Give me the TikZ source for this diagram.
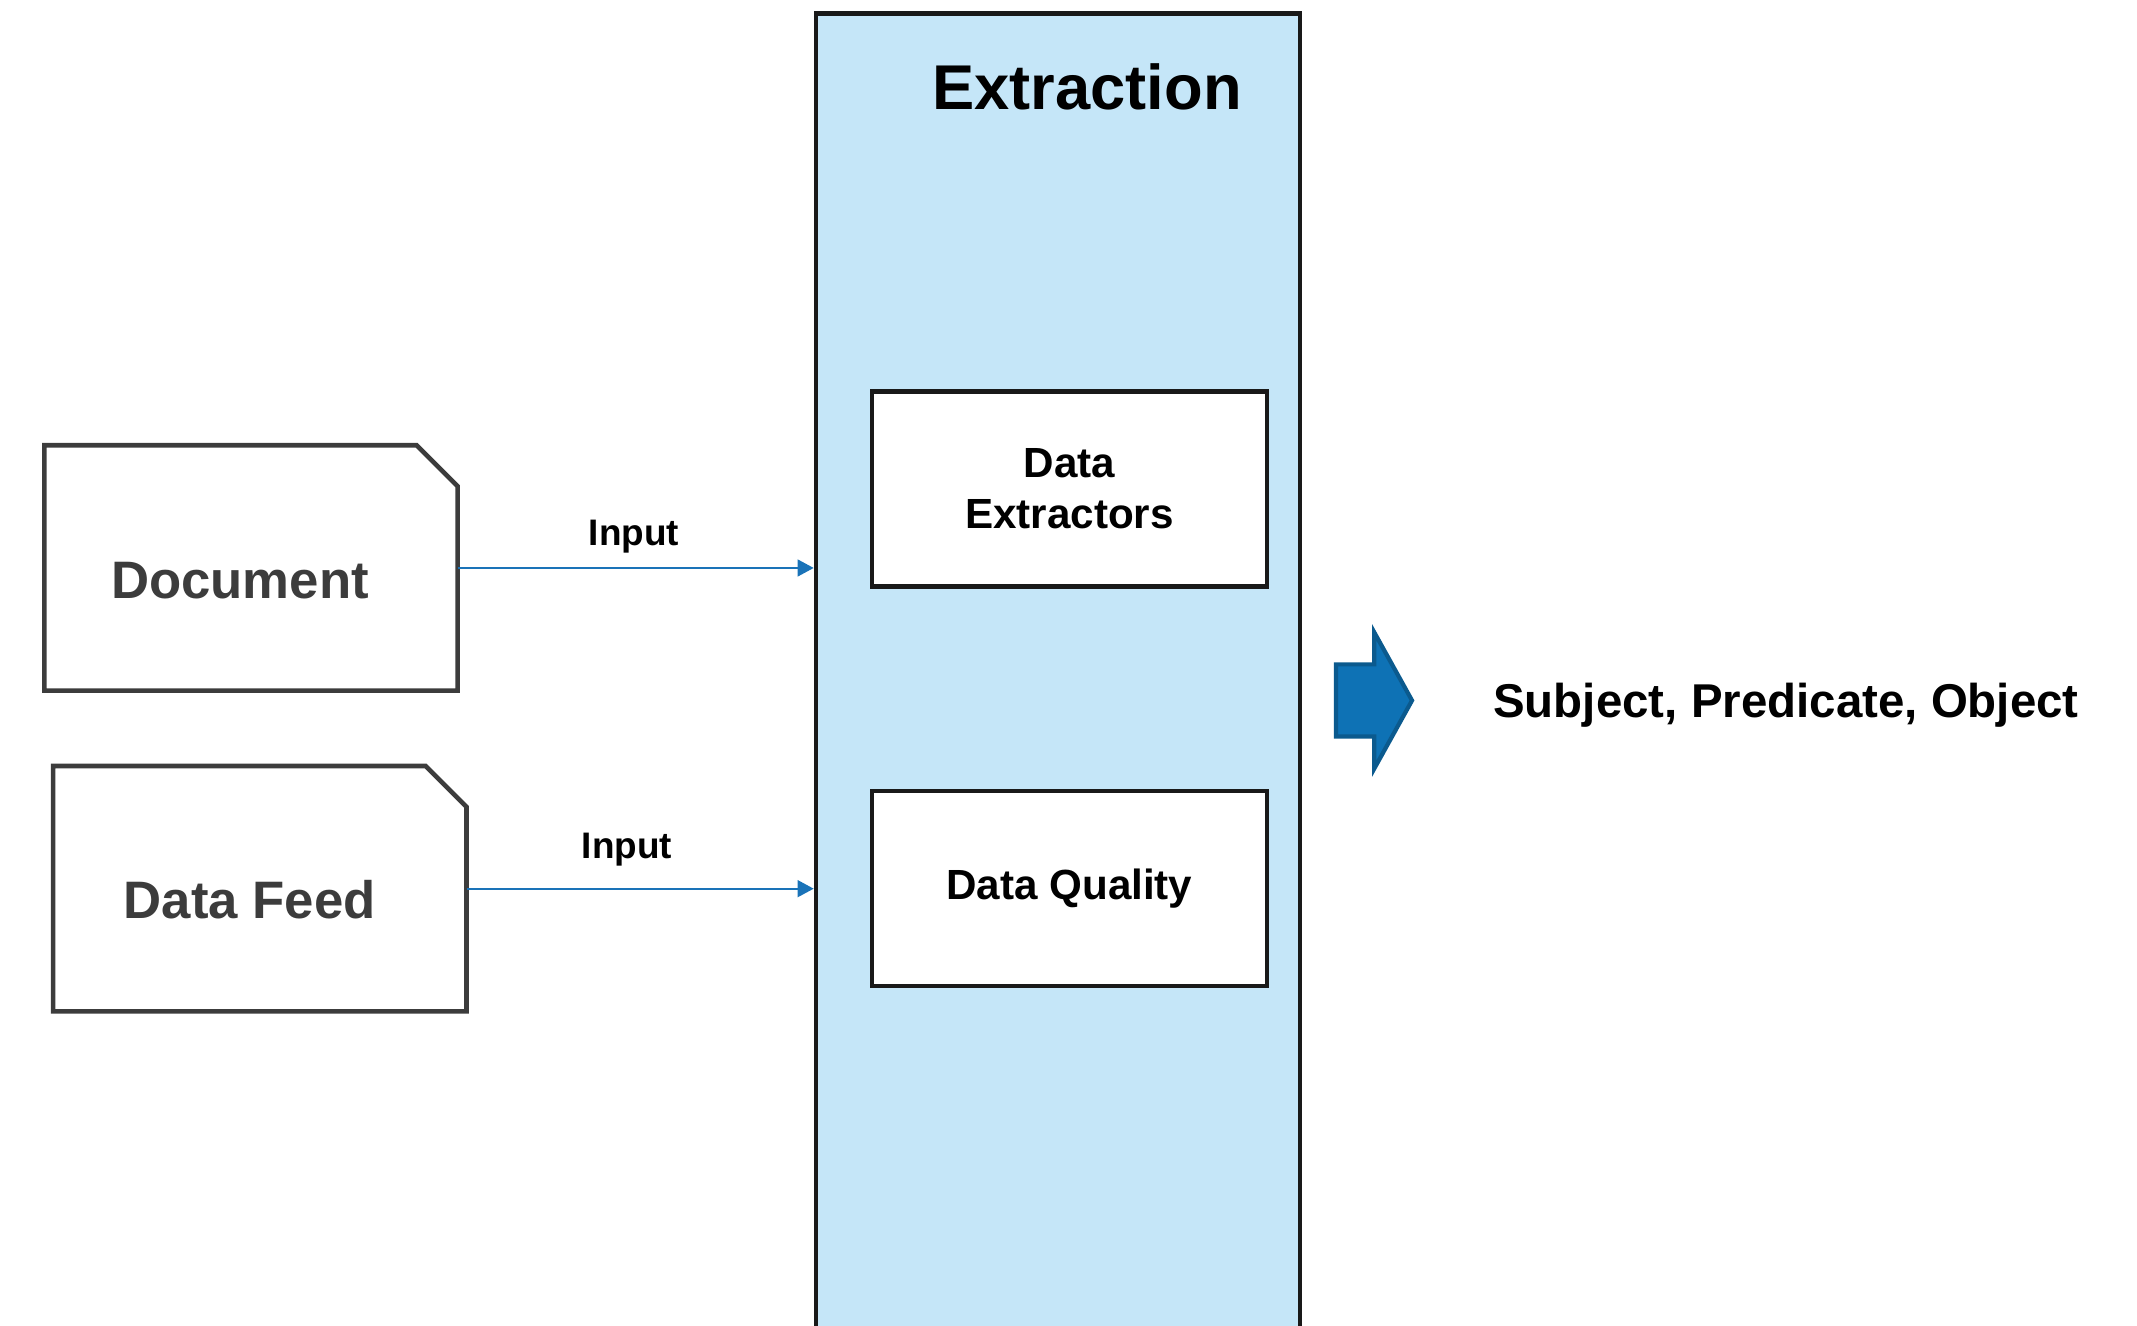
\documentclass[tikz,border=0pt]{standalone}
\usepackage{fontspec}
\setmainfont{Liberation Sans}
\usetikzlibrary{positioning,arrows.meta,shapes.arrows}
\definecolor{panelblue}{HTML}{C5E6F8}
\definecolor{flowblue}{HTML}{0E72B5}
\definecolor{flowedge}{HTML}{0B5A8E}
\definecolor{docgray}{HTML}{3C3C3C}
\definecolor{linkblue}{HTML}{1A73B8}

\begin{document}
\begin{tikzpicture}[
  source/.style={rectangle, minimum width=4.12cm, minimum height=2.44cm, inner sep=0pt},
  outline/.style={draw=docgray, line width=1.3pt},
  srctext/.style={text=docgray, font=\fontsize{15}{18}\selectfont\bfseries},
  stage/.style={rectangle, draw=black!90, line width=1.2pt, fill=white,
    minimum width=3.95cm, minimum height=1.95cm, align=center,
    font=\fontsize{12}{14.5}\selectfont\bfseries},
  feed/.style={draw=linkblue, line width=0.6pt, -{Triangle[length=4.6pt,width=4.8pt]}},
  tag/.style={font=\fontsize{10.5}{12}\selectfont\bfseries}]
\clip (0,0) rectangle (21.37,13.26);
\node[rectangle, draw=black!90, line width=1.2pt, fill=panelblue,
  minimum width=4.84cm, minimum height=13.32cm] (panel) at (10.578,6.464) {};
\node[font=\fontsize{18}{22}\selectfont\bfseries] (title) at (10.87,12.39) {Extraction};
\node[stage] (extractors) at (10.694,8.37) {Data\\Extractors};
\node[stage, below=2.005cm of extractors] (quality) {Data Quality};
\node[source] (doc) at (2.51,7.58) {};
\node[srctext] (doctext) at ([xshift=-0.11cm,yshift=-0.13cm]doc.center) {Document};
\node[source] (datafeed) at (2.598,4.373) {};
\node[srctext] (feedtext) at ([xshift=-0.10cm,yshift=-0.11cm]datafeed.center) {Data Feed};
\foreach \n in {doc,datafeed}
  \draw[outline] (\n.south west) -- (\n.north west) -- ([xshift=-0.41cm]\n.north east)
    -- ([yshift=-0.41cm]\n.north east) -- (\n.south east) -- cycle;
\draw[feed] (doc.east) -- (doc.east -| panel.west);
\draw[feed] (datafeed.east) -- (datafeed.east -| panel.west);
\node[tag] (input1) at (6.34,7.89) {Input};
\node[tag] (input2) at (6.27,4.76) {Input};
\node[single arrow, draw=flowedge, fill=flowblue, line width=1.2pt,
  minimum height=0.76cm, minimum width=1.36cm, single arrow head extend=0.32cm,
  single arrow tip angle=122, inner xsep=0pt, inner ysep=0.34cm] (flow) at (13.64,6.255) {};
\node[font=\fontsize{13.5}{16}\selectfont\bfseries] (spo) at (17.86,6.21) {Subject, Predicate, Object};
\end{tikzpicture}
\end{document}
